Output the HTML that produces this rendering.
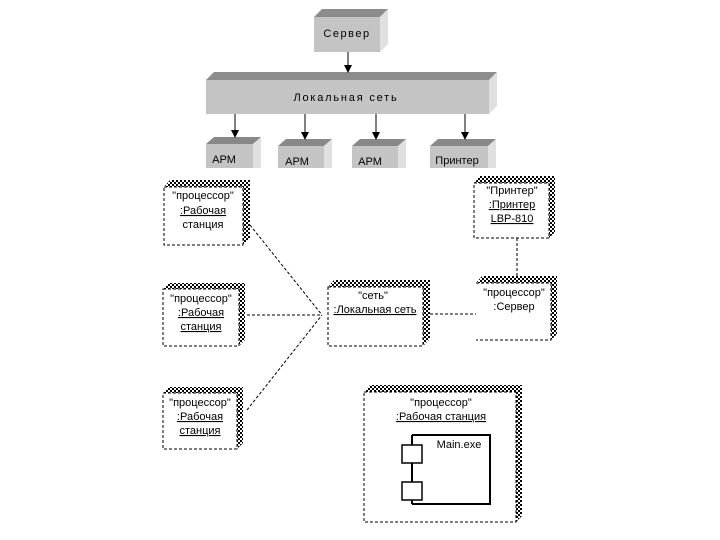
<!DOCTYPE html>
<html><head><meta charset="utf-8"><style>
html,body{margin:0;padding:0;background:#fff;}
svg{display:block;}
text{font-family:"Liberation Sans",sans-serif;font-size:11px;fill:#000;}
</style></head><body>
<svg width="720" height="540" viewBox="0 0 720 540" xmlns="http://www.w3.org/2000/svg">
<defs>
<pattern id="ch" width="4" height="4" patternUnits="userSpaceOnUse">
<rect width="4" height="4" fill="#fff"/><rect width="2" height="2" fill="#000"/><rect x="2" y="2" width="2" height="2" fill="#000"/>
</pattern>
<marker id="ar" markerWidth="8" markerHeight="8" refX="7" refY="4" orient="auto" markerUnits="userSpaceOnUse">
<path d="M0,0 L8,4 L0,8 z" fill="#000"/></marker>
</defs>

<polygon points="314,17 322,9 388,9 380,17" fill="#8c8c8c"/>
<polygon points="380,17 388,9 388,44 380,52" fill="#e0e0e0"/>
<rect x="314" y="17" width="66" height="35" fill="#c4c4c4"/>
<text x="347" y="37" text-anchor="middle" letter-spacing="1.5">Сервер</text>

<polygon points="206,80 214,72 497,72 489,80" fill="#8c8c8c"/>
<polygon points="489,80 497,72 497,106 489,114" fill="#e0e0e0"/>
<rect x="206" y="80" width="283" height="34" fill="#c4c4c4"/>
<text x="346" y="101" text-anchor="middle" letter-spacing="1.8">Локальная сеть</text>

<polygon points="206,144 214,137 261,137 253,144" fill="#888"/>
<polygon points="253,144 261,137 261,168 253,168" fill="#e0e0e0"/>
<rect x="206" y="144" width="47" height="24" fill="#c4c4c4"/>
<text x="224" y="163" text-anchor="middle">АРМ</text>

<polygon points="278,146 286,139 332,139 324,146" fill="#888"/>
<polygon points="324,146 332,139 332,168 324,168" fill="#e0e0e0"/>
<rect x="278" y="146" width="46" height="22" fill="#c4c4c4"/>
<text x="297" y="165" text-anchor="middle">АРМ</text>

<polygon points="352,146 360,139 406,139 398,146" fill="#888"/>
<polygon points="398,146 406,139 406,168 398,168" fill="#e0e0e0"/>
<rect x="352" y="146" width="46" height="22" fill="#c4c4c4"/>
<text x="370" y="165" text-anchor="middle">АРМ</text>

<polygon points="430,146 438,139 496,139 488,146" fill="#888"/>
<polygon points="488,146 496,139 496,168 488,168" fill="#e0e0e0"/>
<rect x="430" y="146" width="58" height="22" fill="#c4c4c4"/>
<text x="457" y="164" text-anchor="middle">Принтер</text>

<g stroke="#000" stroke-width="1" marker-end="url(#ar)">
<line x1="348" y1="52" x2="348" y2="72"/>
<line x1="235" y1="114" x2="235" y2="137"/>
<line x1="305" y1="114" x2="305" y2="139"/>
<line x1="376" y1="114" x2="376" y2="139"/>
<line x1="465" y1="114" x2="465" y2="139"/>
</g>

<g stroke="#000" stroke-width="1" stroke-dasharray="3,2" fill="none">
<line x1="250" y1="225" x2="322" y2="315"/>
<line x1="247" y1="315" x2="322" y2="315"/>
<line x1="247" y1="410" x2="322" y2="315"/>
<line x1="430" y1="314" x2="478" y2="314"/>
<line x1="517" y1="238" x2="517" y2="276"/>
</g>

<g stroke="#000" stroke-width="1">
<path d="M164,187 L170,180 L250,180 L250,238 L243,245 L243,187 Z" fill="url(#ch)" stroke="none"/>
<rect x="164" y="187" width="79" height="58" fill="#fff" stroke-dasharray="3,2"/>
<path d="M163,289 L169,283 L245,283 L245,340 L239,346 L239,289 Z" fill="url(#ch)" stroke="none"/>
<rect x="163" y="289" width="76" height="57" fill="#fff" stroke-dasharray="3,2"/>
<path d="M163,393 L169,387 L243,387 L243,443 L237,449 L237,393 Z" fill="url(#ch)" stroke="none"/>
<rect x="163" y="393" width="74" height="56" fill="#fff" stroke-dasharray="3,2"/>
<path d="M328,287 L334,280 L430,280 L430,339 L423,346 L423,287 Z" fill="url(#ch)" stroke="none"/>
<rect x="328" y="287" width="95" height="59" fill="#fff" stroke-dasharray="3,2"/>
<path d="M474,183 L480,176 L555,176 L555,232 L549,238 L549,183 Z" fill="url(#ch)" stroke="none"/>
<rect x="474" y="183" width="75" height="55" fill="#fff" stroke-dasharray="3,2"/>
<path d="M476,283 L482,276 L557,276 L557,334 L551,340 L551,283 Z" fill="url(#ch)" stroke="none"/>
<path d="M476,283 L551,283 L551,340 L476,340" fill="#fff" stroke-dasharray="3,2"/>
<path d="M364,392 L370,385 L522,385 L522,516 L516,522 L516,392 Z" fill="url(#ch)" stroke="none"/>
<rect x="364" y="392" width="152" height="130" fill="#fff" stroke-dasharray="3,2"/>
</g>

<g stroke="#000" fill="#fff">
<path d="M412,435 L490,435 L490,504 L412,504" fill="none" stroke-width="2"/>
<line x1="412" y1="435" x2="412" y2="504" stroke-width="2"/>
<rect x="402" y="445" width="20" height="18" stroke-width="1.5"/>
<rect x="402" y="482" width="20" height="18" stroke-width="1.5"/>
</g>

<g font-size="10.5">
<text x="203" y="199" text-anchor="middle">"процессор"</text>
<text x="203" y="214" text-anchor="middle" text-decoration="underline">:Рабочая</text>
<text x="203" y="228" text-anchor="middle">станция</text>

<text x="201" y="302" text-anchor="middle">"процессор"</text>
<text x="201" y="316" text-anchor="middle" text-decoration="underline">:Рабочая</text>
<text x="201" y="330" text-anchor="middle" text-decoration="underline">станция</text>

<text x="200" y="406" text-anchor="middle">"процессор"</text>
<text x="200" y="420" text-anchor="middle" text-decoration="underline">:Рабочая</text>
<text x="200" y="434" text-anchor="middle" text-decoration="underline">станция</text>

<text x="373" y="299" text-anchor="middle">"сеть"</text>
<text x="375" y="313" text-anchor="middle" text-decoration="underline">:Локальная сеть</text>

<text x="512" y="194" text-anchor="middle">"Принтер"</text>
<text x="512" y="208" text-anchor="middle" text-decoration="underline">:Принтер</text>
<text x="512" y="222" text-anchor="middle" text-decoration="underline">LBP-810</text>

<text x="514" y="296" text-anchor="middle">"процессор"</text>
<text x="514" y="310" text-anchor="middle">:Сервер</text>

<text x="441" y="406" text-anchor="middle">"процессор"</text>
<text x="441" y="420" text-anchor="middle" text-decoration="underline">:Рабочая станция</text>

<text x="459" y="448" text-anchor="middle">Main.exe</text>
</g>
</svg>
</body></html>
